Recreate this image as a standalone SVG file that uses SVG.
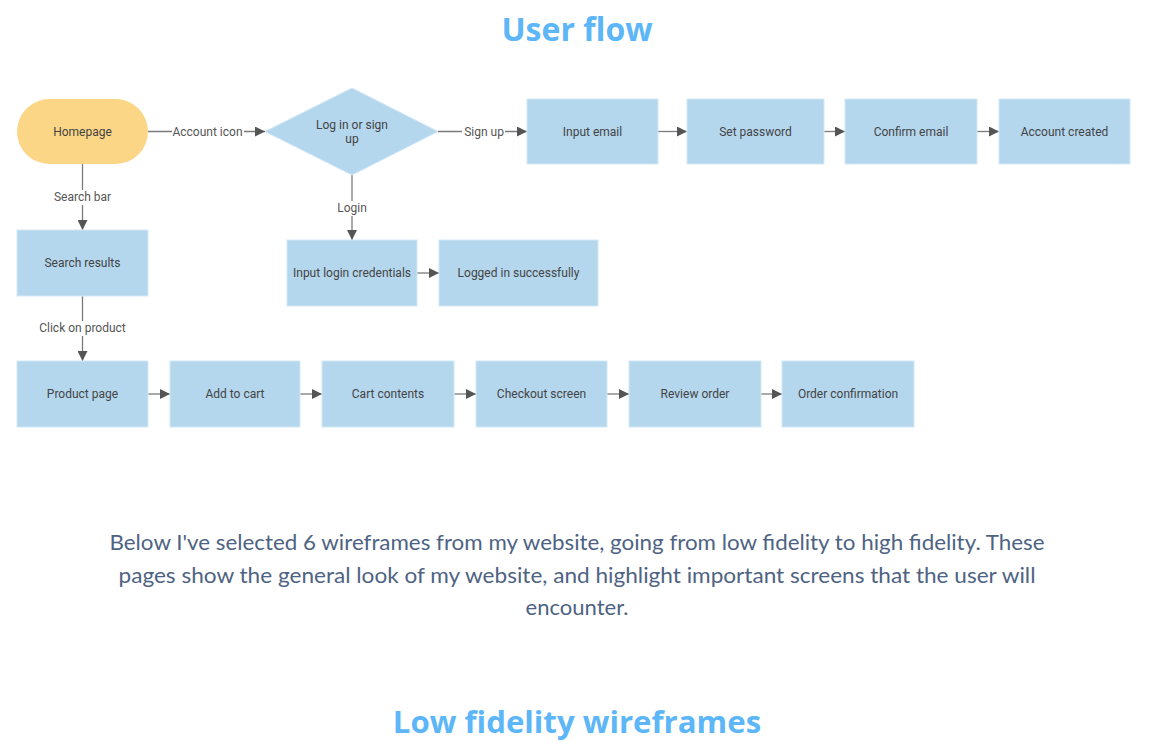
<svg xmlns="http://www.w3.org/2000/svg" width="1150" height="756" viewBox="0 0 1150 756">
  <style>
    .heading { font-family: "Open Sans", "Liberation Sans", sans-serif; font-weight: 700; font-size: 32px; fill: #5cb6f7; text-anchor: middle; }
    .body { font-family: Lato, "Liberation Sans", sans-serif; font-size: 21px; fill: #4e6383; text-anchor: middle; }
    .box { fill: #b4d7ee; stroke: #d2e7f6; stroke-width: 1; }
    .start { fill: #fcd687; }
    .label { font-family: Roboto, "Liberation Sans", sans-serif; font-size: 12px; fill: #444; text-anchor: middle; dominant-baseline: central; }
    .edge { stroke: #7a7a7a; stroke-width: 1.3; fill: none; marker-end: url(#arrow); }
    .elabel { font-family: Roboto, "Liberation Sans", sans-serif; font-size: 12px; fill: #555; text-anchor: middle; dominant-baseline: central; }
    .lbg { fill: #ffffff; }
  </style>
  <defs>
    <marker id="arrow" viewBox="0 0 10 10" refX="10" refY="5" markerWidth="10" markerHeight="10" markerUnits="userSpaceOnUse" orient="auto">
      <path d="M0,0 L10,5 L0,10 Z" fill="#555"/>
    </marker>
  </defs>
  <rect width="1150" height="756" fill="#ffffff"/>

  <text class="heading" x="577" y="41">User flow</text>

  <!-- connectors -->
  <g id="connectors">
    <path class="edge" d="M148,131.5 H265"/>
    <path class="edge" d="M438,131.5 H527"/>
    <path class="edge" d="M658,131.5 H687"/>
    <path class="edge" d="M824,131.5 H845"/>
    <path class="edge" d="M977,131.5 H999"/>
    <path class="edge" d="M82.5,164 V230"/>
    <path class="edge" d="M352,175 V240"/>
    <path class="edge" d="M417,273 H439"/>
    <path class="edge" d="M82.5,296 V361"/>
    <path class="edge" d="M148,394 H170"/>
    <path class="edge" d="M300,394 H322"/>
    <path class="edge" d="M454,394 H476"/>
    <path class="edge" d="M607,394 H629"/>
    <path class="edge" d="M761,394 H782"/>
    <!-- edge labels -->
    <rect class="lbg" x="172" y="124" width="72" height="15"/>
    <text class="elabel" x="207.5" y="131.5">Account icon</text>
    <rect class="lbg" x="462" y="124" width="43" height="15"/>
    <text class="elabel" x="484" y="131.5">Sign up</text>
    <rect class="lbg" x="52" y="190" width="62" height="15"/>
    <text class="elabel" x="82.5" y="197">Search bar</text>
    <rect class="lbg" x="336" y="201" width="33" height="15"/>
    <text class="elabel" x="352" y="208">Login</text>
    <rect class="lbg" x="38" y="321" width="90" height="15"/>
    <text class="elabel" x="82.5" y="328">Click on product</text>
  </g>

  <g id="homepage">
    <rect class="start" x="17" y="99" width="131" height="65" rx="32.5"/>
    <text class="label" x="82.5" y="131.5">Homepage</text>
  </g>
  <g id="login-or-signup">
    <polygon class="box" points="352,88 438,131.5 352,175 265,131.5" stroke="none"/>
    <text class="label" x="352" y="125">Log in or sign</text>
    <text class="label" x="352" y="139">up</text>
  </g>
  <g id="input-email">
    <rect class="box" x="527" y="99" width="131" height="65"/>
    <text class="label" x="592.5" y="131.5">Input email</text>
  </g>
  <g id="set-password">
    <rect class="box" x="687" y="99" width="137" height="65"/>
    <text class="label" x="755.5" y="131.5">Set password</text>
  </g>
  <g id="confirm-email">
    <rect class="box" x="845" y="99" width="132" height="65"/>
    <text class="label" x="911" y="131.5">Confirm email</text>
  </g>
  <g id="account-created">
    <rect class="box" x="999" y="99" width="131" height="65"/>
    <text class="label" x="1064.5" y="131.5">Account created</text>
  </g>
  <g id="search-results">
    <rect class="box" x="17" y="230" width="131" height="66"/>
    <text class="label" x="82.5" y="263">Search results</text>
  </g>
  <g id="input-login">
    <rect class="box" x="287" y="240" width="130" height="66"/>
    <text class="label" x="352" y="273">Input login credentials</text>
  </g>
  <g id="logged-in">
    <rect class="box" x="439" y="240" width="159" height="66"/>
    <text class="label" x="518.5" y="273">Logged in successfully</text>
  </g>
  <g id="product-page">
    <rect class="box" x="17" y="361" width="131" height="66"/>
    <text class="label" x="82.5" y="394">Product page</text>
  </g>
  <g id="add-to-cart">
    <rect class="box" x="170" y="361" width="130" height="66"/>
    <text class="label" x="235" y="394">Add to cart</text>
  </g>
  <g id="cart-contents">
    <rect class="box" x="322" y="361" width="132" height="66"/>
    <text class="label" x="388" y="394">Cart contents</text>
  </g>
  <g id="checkout-screen">
    <rect class="box" x="476" y="361" width="131" height="66"/>
    <text class="label" x="541.5" y="394">Checkout screen</text>
  </g>
  <g id="review-order">
    <rect class="box" x="629" y="361" width="132" height="66"/>
    <text class="label" x="695" y="394">Review order</text>
  </g>
  <g id="order-confirmation">
    <rect class="box" x="782" y="361" width="132" height="66"/>
    <text class="label" x="848" y="394">Order confirmation</text>
  </g>

  <text class="body" x="577" y="550" textLength="935" lengthAdjust="spacingAndGlyphs">Below I've selected 6 wireframes from my website, going from low fidelity to high fidelity. These</text>
  <text class="body" x="577" y="583" textLength="917" lengthAdjust="spacingAndGlyphs">pages show the general look of my website, and highlight important screens that the user will</text>
  <text class="body" x="577" y="615" textLength="103" lengthAdjust="spacingAndGlyphs">encounter.</text>

  <text class="heading" x="577" y="733" style="font-size:31.2px">Low fidelity wireframes</text>
</svg>
